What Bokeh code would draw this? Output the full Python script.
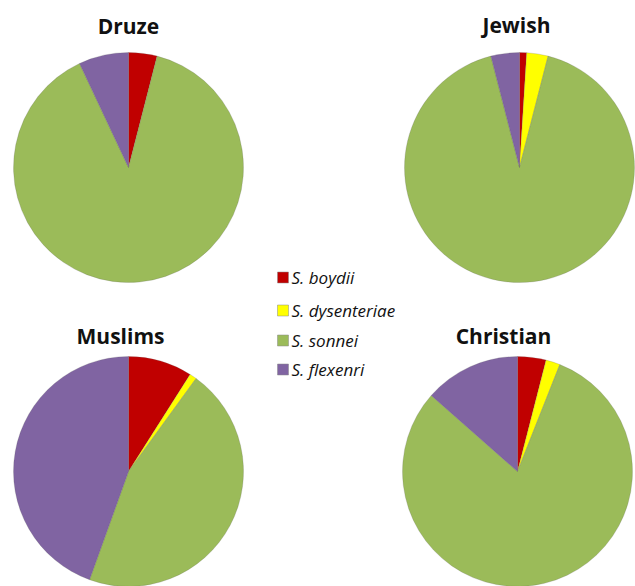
import math
from bokeh.plotting import figure
from bokeh.models import Range1d, ColumnDataSource
from bokeh.core.properties import value
from bokeh.embed import file_html
from bokeh.resources import INLINE

species = ["S. boydii", "S. dysenteriae", "S. sonnei", "S. flexenri"]
colors = ["#C00000", "#FFFF00", "#9BBB59", "#8064A2"]
groups = ["Druze", "Jewish", "Muslims", "Christian"]
druze = [4, 0, 89, 7]
jewish = [1, 3, 92, 4]
muslims = [9, 1, 45.5, 44.5]
christian = [4, 2, 80.5, 13.5]
series = [druze, jewish, muslims, christian]

W, H = 635, 586
# layout (pixel coords, y measured from top)
centers = [(128, 167), (519, 167), (128, 471), (517, 471)]
radius = 115
title_pos = [(128, 25), (516, 24), (120, 335), (503, 335)]

p = figure(width=W, height=H, output_backend="svg", toolbar_location=None,
           x_range=Range1d(0, W), y_range=Range1d(0, H), min_border=0)
p.axis.visible = False
p.grid.visible = False
p.outline_line_color = None
p.background_fill_color = "white"
p.border_fill_color = "white"

def Y(y):
    return H - y

for g, vals, (cx, cy), (tx, ty) in zip(groups, series, centers, title_pos):
    total = float(sum(vals))
    cum = 0.0
    xs, ys, st, en, cols = [], [], [], [], []
    for v, c in zip(vals, colors):
        c0 = cum / total
        cum += v
        c1 = cum / total
        if v <= 0:
            continue
        xs.append(cx); ys.append(Y(cy))
        st.append(math.pi / 2 - 2 * math.pi * c1)
        en.append(math.pi / 2 - 2 * math.pi * c0)
        cols.append(c)
    src = ColumnDataSource(dict(x=xs, y=ys, s=st, e=en, c=cols))
    p.wedge(x="x", y="y", radius=radius, start_angle="s", end_angle="e",
            fill_color="c", line_color="#5a5a5a", line_alpha=0.35,
            line_width=0.6, source=src)
    p.text(x=[tx], y=[Y(ty)], text=[g], text_font=value("Open Sans"),
           text_font_style="bold", text_font_size="21px",
           text_align="center", text_baseline="middle", text_color="#111111")

# legend
leg_x = 282.5
leg_y = [277, 310, 340, 369]
p.rect(x=[leg_x] * 4, y=[Y(v) for v in leg_y], width=11, height=11,
       fill_color=colors, line_color="#888888", line_width=0.5)
p.text(x=[291] * 4, y=[Y(v) for v in leg_y], text=species,
       text_font=value("Open Sans"), text_font_style="italic", text_font_size="17px",
       text_align="left", text_baseline="middle", text_color="#111111")

open("out.html", "w").write(file_html(p, INLINE))
